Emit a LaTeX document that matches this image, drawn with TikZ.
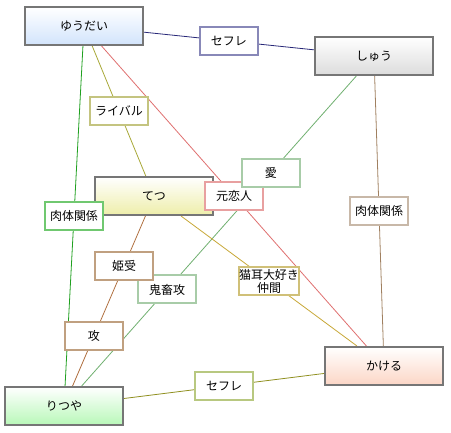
\documentclass[tikz,border=0pt]{standalone}
\usepackage{fontspec}
\newfontfamily\jp{Noto Sans CJK JP}
\usetikzlibrary{calc}
\pgfdeclarelayer{bg}
\pgfsetlayers{bg,main}
\definecolor{boxgray}{HTML}{767676}
\definecolor{fillBlue}{HTML}{D2E4FC}
\definecolor{fillGray}{HTML}{DCDCDC}
\definecolor{fillYellow}{HTML}{EEEEAA}
\definecolor{fillPeach}{HTML}{FCD6C6}
\definecolor{fillGreen}{HTML}{B8F8B8}
% edge colours
\definecolor{eNavy}{HTML}{282878}
\definecolor{eOlive}{HTML}{A8A838}
\definecolor{eRed}{HTML}{E07070}
\definecolor{eGreen}{HTML}{20A020}
\definecolor{eLGreen}{HTML}{70B070}
\definecolor{eTan}{HTML}{A08060}
\definecolor{eBrown}{HTML}{B07040}
\definecolor{eGold}{HTML}{C8A838}
\definecolor{eOlive2}{HTML}{909020}
% label border colours
\definecolor{bNavy}{HTML}{8888B8}
\definecolor{bOlive}{HTML}{C4C480}
\definecolor{bRed}{HTML}{E8A0A0}
\definecolor{bGreen}{HTML}{70C870}
\definecolor{bLGreen}{HTML}{A8CCA8}
\definecolor{bTan}{HTML}{C8B8A8}
\definecolor{bBrown}{HTML}{C0A080}
\definecolor{bGold}{HTML}{D0C078}
\definecolor{bOlive2}{HTML}{B8C880}
\begin{document}
\begin{tikzpicture}[x=1pt,y=-1pt,
  person/.style={draw=boxgray, line width=2pt, minimum width=118pt, minimum height=38pt,
    inner sep=0pt, top color=white, bottom color=#1, font=\jp\fontsize{12}{13}\selectfont},
  rel/.style={draw=#1, fill=white, line width=2pt, minimum width=58pt, minimum height=28pt,
    inner sep=0pt, align=center, font=\jp\fontsize{12}{13}\selectfont},
  link/.style={draw=#1, line width=0.8pt}]
\useasboundingbox (0,0) rectangle (451,433);
\begin{pgfonlayer}{bg}
\fill[white] (0,0) rectangle (451,433);
\end{pgfonlayer}

\node[person=fillBlue]   (yu)  at (84,26)   {ゆうだい};
\node[person=fillGray]   (shu) at (374,56)  {しゅう};
\node[person=fillYellow] (te)  at (154,196) {てつ};
\node[person=fillPeach]  (ka)  at (384,366) {かける};
\node[person=fillGreen]  (ri)  at (64,406)  {りつや};

\begin{pgfonlayer}{bg}
\draw[link=eNavy]   (yu) -- (shu);
\draw[link=eOlive]  (yu) -- (te);
\draw[link=eRed]    (yu) -- (ka);
\draw[link=eGreen]  (yu) -- (ri);
\draw[link=eLGreen] (shu) -- (ri);
\draw[link=eTan]    (shu) -- (ka);
\draw[link=eBrown]  (te) -- (ri);
\draw[link=eGold]   (te) -- (ka);
\draw[link=eOlive2] (ri) -- (ka);
\end{pgfonlayer}

\node[rel=bNavy]   (l1)  at ($(yu)!0.5!(shu)$) {セフレ};
\node[rel=bOlive]  (l2)  at ($(yu)!0.5!(te)$)  {ライバル};
\node[rel=bRed]    (l3)  at ($(yu)!0.5!(ka)$)  {元恋人};
\node[rel=bGreen]  (l4)  at ($(yu)!0.5!(ri)$)  {肉体関係};
\node[rel=bLGreen] (l5)  at ($(shu)!0.333!(ri)$) {愛};
\node[rel=bLGreen] (l6)  at ($(shu)!0.667!(ri)$) {鬼畜攻};
\node[rel=bTan]    (l7)  at ($(shu)!0.5!(ka)$) {肉体関係};
\node[rel=bBrown]  (l8)  at ($(te)!0.333!(ri)$) {姫受};
\node[rel=bBrown]  (l9)  at ($(te)!0.667!(ri)$) {攻};
\node[rel=bGold]   (l10) at ($(te)!0.5!(ka)$)  {猫耳大好き\\仲間};
\node[rel=bOlive2] (l11) at ($(ri)!0.5!(ka)$)  {セフレ};
\end{tikzpicture}
\end{document}
